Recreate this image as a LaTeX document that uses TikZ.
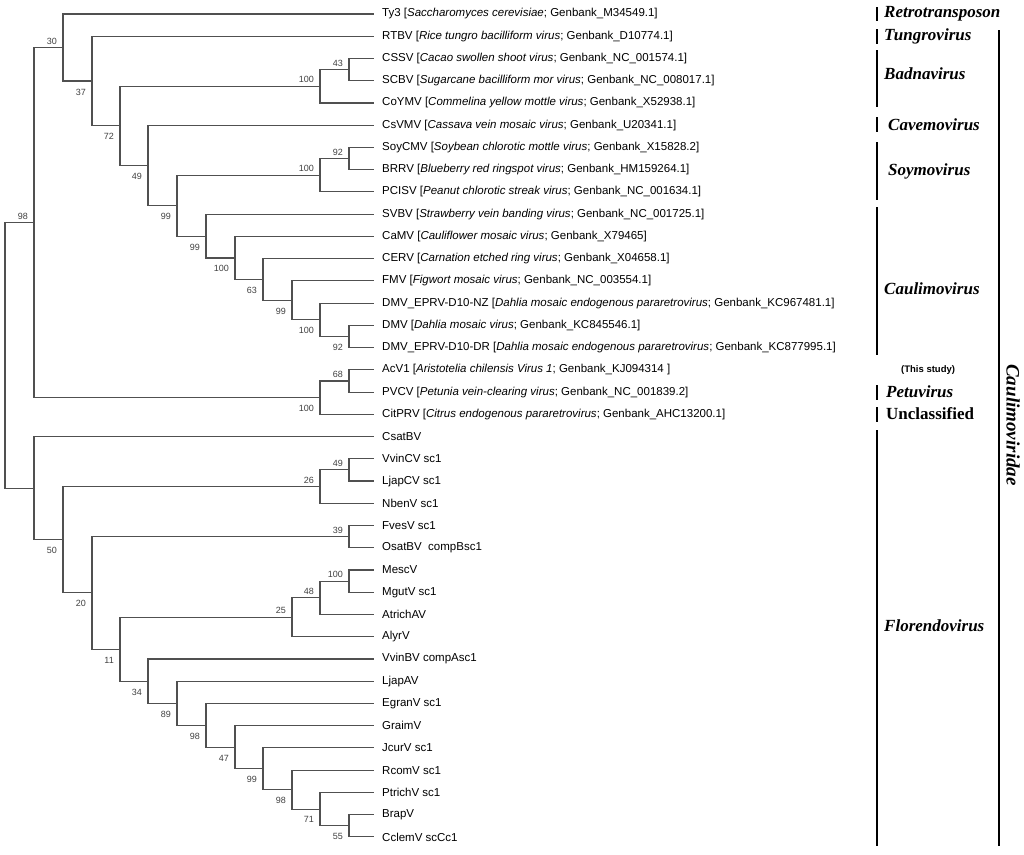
\documentclass[tikz,border=0pt]{standalone}
\usepackage{fontspec}
\setmainfont{Liberation Sans}
\newfontfamily\timesf{Liberation Serif}
\newcommand{\Y}[1]{14+22.24*(#1)}
\definecolor{branchc}{HTML}{505050}
\definecolor{bsc}{HTML}{404040}
\begin{document}
\begin{tikzpicture}[x=1pt,y=-1pt,
  br/.style={draw=branchc,line width=1.1pt},
  leaf/.style={anchor=west,inner sep=0pt,xshift=8pt,font=\fontsize{11.5}{13}\selectfont},
  bsa/.style={anchor=south east,inner sep=0pt,xshift=-6pt,yshift=3pt,text=bsc,font=\fontsize{9}{10}\selectfont},
  bsb/.style={anchor=north east,inner sep=0pt,xshift=-6pt,yshift=-7.5pt,text=bsc,font=\fontsize{9}{10}\selectfont},
  grp/.style={anchor=west,inner sep=0pt,font=\timesf\fontsize{17}{20}\selectfont\bfseries\itshape},
  bar/.style={draw=black,line width=2.6pt}]
\useasboundingbox (0,0) rectangle (1024,854);

% leaf tips
\coordinate (Ty3) at (374,{\Y{0}});
\coordinate (RTBV) at (374,{\Y{1}});
\coordinate (CSSV) at (374,{\Y{2}});
\coordinate (SCBV) at (374,{\Y{3}});
\coordinate (CoYMV) at (374,{\Y{4}});
\coordinate (CsVMV) at (374,{\Y{5}});
\coordinate (SoyCMV) at (374,{\Y{6}});
\coordinate (BRRV) at (374,{\Y{7}});
\coordinate (PCISV) at (374,{\Y{8}});
\coordinate (SVBV) at (374,{\Y{9}});
\coordinate (CaMV) at (374,{\Y{10}});
\coordinate (CERV) at (374,{\Y{11}});
\coordinate (FMV) at (374,{\Y{12}});
\coordinate (NZ) at (374,{\Y{13}});
\coordinate (DMV) at (374,{\Y{14}});
\coordinate (DR) at (374,{\Y{15}});
\coordinate (AcV1) at (374,{\Y{16}});
\coordinate (PVCV) at (374,{\Y{17}});
\coordinate (CitPRV) at (374,{\Y{18}});
\coordinate (CsatBV) at (374,{\Y{19}});
\coordinate (VvinCV) at (374,{\Y{20}});
\coordinate (LjapCV) at (374,{\Y{21}});
\coordinate (NbenV) at (374,{\Y{22}});
\coordinate (FvesV) at (374,{\Y{23}});
\coordinate (OsatBV) at (374,{\Y{24}});
\coordinate (MescV) at (374,{\Y{25}});
\coordinate (MgutV) at (374,{\Y{26}});
\coordinate (AtrichAV) at (374,{\Y{27}});
\coordinate (AlyrV) at (374,{\Y{28}});
\coordinate (VvinBV) at (374,{\Y{29}});
\coordinate (LjapAV) at (374,{\Y{30}});
\coordinate (EgranV) at (374,{\Y{31}});
\coordinate (GraimV) at (374,{\Y{32}});
\coordinate (JcurV) at (374,{\Y{33}});
\coordinate (RcomV) at (374,{\Y{34}});
\coordinate (PtrichV) at (374,{\Y{35}});
\coordinate (BrapV) at (374,{\Y{36}});
\coordinate (CclemV) at (374,{\Y{37}});

% leaf labels
\node[leaf] (tTy3) at (Ty3) {Ty3 [\textit{Saccharomyces cerevisiae}; Genbank\_M34549.1]};
\node[leaf] (tRTBV) at (RTBV) {RTBV [\textit{Rice tungro bacilliform virus}; Genbank\_D10774.1]};
\node[leaf] (tCSSV) at (CSSV) {CSSV [\textit{Cacao swollen shoot virus}; Genbank\_NC\_001574.1]};
\node[leaf] (tSCBV) at (SCBV) {SCBV [\textit{Sugarcane bacilliform mor virus}; Genbank\_NC\_008017.1]};
\node[leaf] (tCoYMV) at (CoYMV) {CoYMV [\textit{Commelina yellow mottle virus}; Genbank\_X52938.1]};
\node[leaf] (tCsVMV) at (CsVMV) {CsVMV [\textit{Cassava vein mosaic virus}; Genbank\_U20341.1]};
\node[leaf] (tSoyCMV) at (SoyCMV) {SoyCMV [\textit{Soybean chlorotic mottle virus}; Genbank\_X15828.2]};
\node[leaf] (tBRRV) at (BRRV) {BRRV [\textit{Blueberry red ringspot virus}; Genbank\_HM159264.1]};
\node[leaf] (tPCISV) at (PCISV) {PCISV [\textit{Peanut chlorotic streak virus}; Genbank\_NC\_001634.1]};
\node[leaf] (tSVBV) at (SVBV) {SVBV [\textit{Strawberry vein banding virus}; Genbank\_NC\_001725.1]};
\node[leaf] (tCaMV) at (CaMV) {CaMV [\textit{Cauliflower mosaic virus}; Genbank\_X79465]};
\node[leaf] (tCERV) at (CERV) {CERV [\textit{Carnation etched ring virus}; Genbank\_X04658.1]};
\node[leaf] (tFMV) at (FMV) {FMV [\textit{Figwort mosaic virus}; Genbank\_NC\_003554.1]};
\node[leaf] (tNZ) at (NZ) {DMV\_EPRV-D10-NZ [\textit{Dahlia mosaic endogenous pararetrovirus}; Genbank\_KC967481.1]};
\node[leaf] (tDMV) at (DMV) {DMV [\textit{Dahlia mosaic virus}; Genbank\_KC845546.1]};
\node[leaf] (tDR) at (DR) {DMV\_EPRV-D10-DR [\textit{Dahlia mosaic endogenous pararetrovirus}; Genbank\_KC877995.1]};
\node[leaf] (tAcV1) at (AcV1) {AcV1 [\textit{Aristotelia chilensis Virus 1}; Genbank\_KJ094314 ]};
\node[leaf] (tPVCV) at (PVCV) {PVCV [\textit{Petunia vein-clearing virus}; Genbank\_NC\_001839.2]};
\node[leaf] (tCitPRV) at (CitPRV) {CitPRV [\textit{Citrus endogenous pararetrovirus}; Genbank\_AHC13200.1]};
\node[leaf] (tCsatBV) at (CsatBV) {CsatBV};
\node[leaf] (tVvinCV) at (VvinCV) {VvinCV sc1};
\node[leaf] (tLjapCV) at (LjapCV) {LjapCV sc1};
\node[leaf] (tNbenV) at (NbenV) {NbenV sc1};
\node[leaf] (tFvesV) at (FvesV) {FvesV sc1};
\node[leaf] (tOsatBV) at (OsatBV) {OsatBV\ \ compBsc1};
\node[leaf] (tMescV) at (MescV) {MescV};
\node[leaf] (tMgutV) at (MgutV) {MgutV sc1};
\node[leaf] (tAtrichAV) at (AtrichAV) {AtrichAV};
\node[leaf] (tAlyrV) at (AlyrV) {AlyrV};
\node[leaf] (tVvinBV) at (VvinBV) {VvinBV compAsc1};
\node[leaf] (tLjapAV) at (LjapAV) {LjapAV};
\node[leaf] (tEgranV) at (EgranV) {EgranV sc1};
\node[leaf] (tGraimV) at (GraimV) {GraimV};
\node[leaf] (tJcurV) at (JcurV) {JcurV sc1};
\node[leaf] (tRcomV) at (RcomV) {RcomV sc1};
\node[leaf] (tPtrichV) at (PtrichV) {PtrichV sc1};
\node[leaf] (tBrapV) at (BrapV) {BrapV};
\node[leaf] (tCclemV) at (CclemV) {CclemV scCc1};

% internal nodes
\coordinate (Root) at (5,{\Y{15.349}});
\coordinate (A) at (34,{\Y{9.3787}});
\coordinate (B) at (63,{\Y{1.5073}});
\coordinate (C) at (92,{\Y{3.01465}});
\coordinate (D) at (120,{\Y{5.0293}});
\coordinate (Bad) at (320,{\Y{3.25}});
\coordinate (G43) at (349,{\Y{2.5}});
\coordinate (E) at (148,{\Y{6.80859}});
\coordinate (H) at (177,{\Y{8.61719}});
\coordinate (Soy) at (320,{\Y{7.25}});
\coordinate (S92) at (349,{\Y{6.5}});
\coordinate (I) at (206,{\Y{9.98438}});
\coordinate (J) at (235,{\Y{10.96875}});
\coordinate (K) at (263,{\Y{11.9375}});
\coordinate (L) at (292,{\Y{12.875}});
\coordinate (M) at (320,{\Y{13.75}});
\coordinate (N) at (349,{\Y{14.5}});
\coordinate (PV) at (320,{\Y{17.25}});
\coordinate (P68) at (349,{\Y{16.5}});
\coordinate (F) at (34,{\Y{21.320}});
\coordinate (Q) at (63,{\Y{23.640}});
\coordinate (T26) at (320,{\Y{21.25}});
\coordinate (V49) at (349,{\Y{20.5}});
\coordinate (R20) at (92,{\Y{26.0303}});
\coordinate (W39) at (349,{\Y{23.5}});
\coordinate (X11) at (120,{\Y{28.5605}});
\coordinate (Y25) at (292,{\Y{27.125}});
\coordinate (Z48) at (320,{\Y{26.25}});
\coordinate (Z100) at (349,{\Y{25.5}});
\coordinate (Z34) at (148,{\Y{29.99609}});
\coordinate (Z89) at (177,{\Y{30.99219}});
\coordinate (Z98a) at (206,{\Y{31.98438}});
\coordinate (Z47) at (235,{\Y{32.96875}});
\coordinate (Z99) at (263,{\Y{33.9375}});
\coordinate (Z98b) at (292,{\Y{34.875}});
\coordinate (Z71) at (320,{\Y{35.75}});
\coordinate (Z55) at (349,{\Y{36.5}});

% branches
\draw[br] (Root) |- (A); \draw[br] (Root) |- (F);
\draw[br] (A) |- (B); \draw[br] (A) |- (PV);
\draw[br] (B) |- (Ty3); \draw[br] (B) |- (C);
\draw[br] (C) |- (RTBV); \draw[br] (C) |- (D);
\draw[br] (D) |- (Bad); \draw[br] (D) |- (E);
\draw[br] (Bad) |- (G43); \draw[br] (Bad) |- (CoYMV);
\draw[br] (G43) |- (CSSV); \draw[br] (G43) |- (SCBV);
\draw[br] (E) |- (CsVMV); \draw[br] (E) |- (H);
\draw[br] (H) |- (Soy); \draw[br] (H) |- (I);
\draw[br] (Soy) |- (S92); \draw[br] (Soy) |- (PCISV);
\draw[br] (S92) |- (SoyCMV); \draw[br] (S92) |- (BRRV);
\draw[br] (I) |- (SVBV); \draw[br] (I) |- (J);
\draw[br] (J) |- (CaMV); \draw[br] (J) |- (K);
\draw[br] (K) |- (CERV); \draw[br] (K) |- (L);
\draw[br] (L) |- (FMV); \draw[br] (L) |- (M);
\draw[br] (M) |- (NZ); \draw[br] (M) |- (N);
\draw[br] (N) |- (DMV); \draw[br] (N) |- (DR);
\draw[br] (PV) |- (P68); \draw[br] (PV) |- (CitPRV);
\draw[br] (P68) |- (AcV1); \draw[br] (P68) |- (PVCV);
\draw[br] (F) |- (CsatBV); \draw[br] (F) |- (Q);
\draw[br] (Q) |- (T26); \draw[br] (Q) |- (R20);
\draw[br] (T26) |- (V49); \draw[br] (T26) |- (NbenV);
\draw[br] (V49) |- (VvinCV); \draw[br] (V49) |- (LjapCV);
\draw[br] (R20) |- (W39); \draw[br] (R20) |- (X11);
\draw[br] (W39) |- (FvesV); \draw[br] (W39) |- (OsatBV);
\draw[br] (X11) |- (Y25); \draw[br] (X11) |- (Z34);
\draw[br] (Y25) |- (Z48); \draw[br] (Y25) |- (AlyrV);
\draw[br] (Z48) |- (Z100); \draw[br] (Z48) |- (AtrichAV);
\draw[br] (Z100) |- (MescV); \draw[br] (Z100) |- (MgutV);
\draw[br] (Z34) |- (VvinBV); \draw[br] (Z34) |- (Z89);
\draw[br] (Z89) |- (LjapAV); \draw[br] (Z89) |- (Z98a);
\draw[br] (Z98a) |- (EgranV); \draw[br] (Z98a) |- (Z47);
\draw[br] (Z47) |- (GraimV); \draw[br] (Z47) |- (Z99);
\draw[br] (Z99) |- (JcurV); \draw[br] (Z99) |- (Z98b);
\draw[br] (Z98b) |- (RcomV); \draw[br] (Z98b) |- (Z71);
\draw[br] (Z71) |- (PtrichV); \draw[br] (Z71) |- (Z55);
\draw[br] (Z55) |- (BrapV); \draw[br] (Z55) |- (CclemV);

% bootstrap values
\node[bsa] (lA) at (A) {98};
\node[bsa] (lB) at (B) {30};
\node[bsb] (lC) at (C) {37};
\node[bsb] (lD) at (D) {72};
\node[bsa] (lBad) at (Bad) {100};
\node[bsa] (lG43) at (G43) {43};
\node[bsb] (lE) at (E) {49};
\node[bsb] (lH) at (H) {99};
\node[bsa] (lSoy) at (Soy) {100};
\node[bsa] (lS92) at (S92) {92};
\node[bsb] (lI) at (I) {99};
\node[bsb] (lJ) at (J) {100};
\node[bsb] (lK) at (K) {63};
\node[bsb] (lL) at (L) {99};
\node[bsb] (lM) at (M) {100};
\node[bsb] (lN) at (N) {92};
\node[bsb] (lPV) at (PV) {100};
\node[bsa] (lP68) at (P68) {68};
\node[bsb] (lQ) at (Q) {50};
\node[bsa] (lT26) at (T26) {26};
\node[bsa] (lV49) at (V49) {49};
\node[bsb] (lR20) at (R20) {20};
\node[bsa] (lW39) at (W39) {39};
\node[bsb] (lX11) at (X11) {11};
\node[bsa] (lY25) at (Y25) {25};
\node[bsa] (lZ48) at (Z48) {48};
\node[bsa] (lZ100) at (Z100) {100};
\node[bsb] (lZ34) at (Z34) {34};
\node[bsb] (lZ89) at (Z89) {89};
\node[bsb] (lZ98a) at (Z98a) {98};
\node[bsb] (lZ47) at (Z47) {47};
\node[bsb] (lZ99) at (Z99) {99};
\node[bsb] (lZ98b) at (Z98b) {98};
\node[bsb] (lZ71) at (Z71) {71};
\node[bsb] (lZ55) at (Z55) {55};

% group bars
\draw[bar] (877,7) -- (877,21);
\draw[bar] (877,29) -- (877,44);
\draw[bar] (877,50) -- (877,107);
\draw[bar] (877,117) -- (877,132);
\draw[bar] (877,142) -- (877,200);
\draw[bar] (877,207) -- (877,355);
\draw[bar] (877,385) -- (877,400);
\draw[bar] (877,407) -- (877,422);
\draw[bar] (877,430) -- (877,846);
\draw[bar] (999,30) -- (999,846);

% group labels
\node[grp] (gRetro) at (884,14) {Retrotransposon};
\node[grp] (gTungro) at (884,36) {Tungrovirus};
\node[grp] (gBadna) at (884,74) {Badnavirus};
\node[grp] (gCavemo) at (888,125) {Cavemovirus};
\node[grp] (gSoymo) at (888,171) {Soymovirus};
\node[grp] (gCaulimo) at (884,289) {Caulimovirus};
\node[anchor=west,inner sep=0pt,font=\fontsize{9.5}{11}\selectfont\bfseries] (gThis) at (901,370) {(This study)};
\node[grp] (gPetu) at (886,392) {Petuvirus};
\node[grp,font=\timesf\fontsize{17}{20}\selectfont\bfseries] (gUncl) at (886,414) {Unclassified};
\node[grp] (gFloren) at (884,626) {Florendovirus};
\node[grp,anchor=center,rotate=-90,font=\timesf\fontsize{19}{21}\selectfont\bfseries\itshape] (gCaulimoviridae) at (1013,425) {Caulimoviridae};
\end{tikzpicture}
\end{document}
